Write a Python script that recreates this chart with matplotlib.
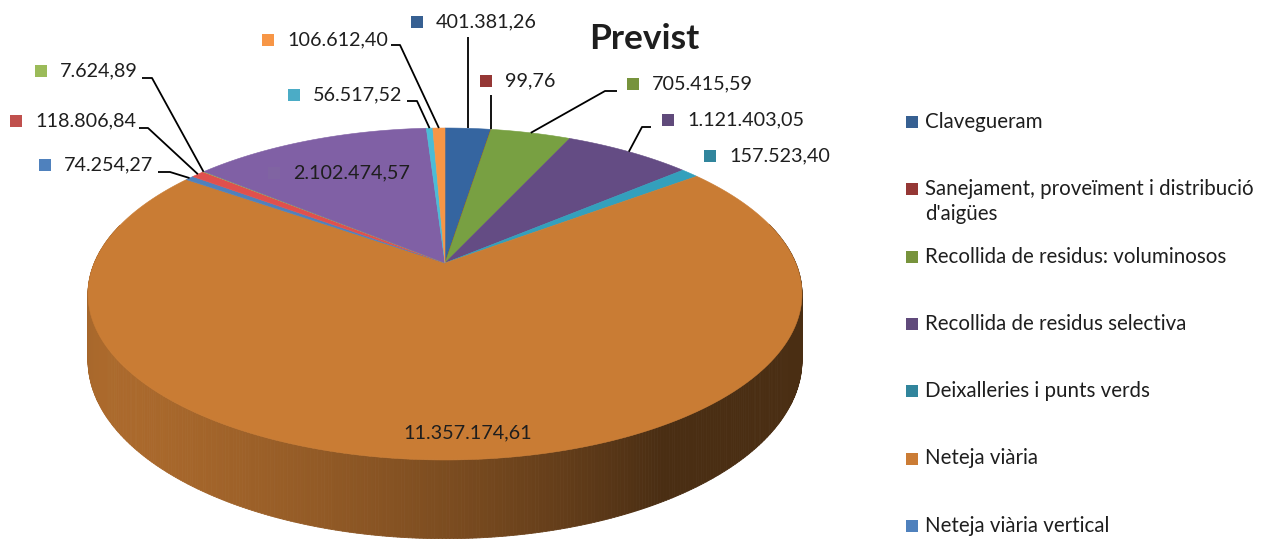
import numpy as np
import matplotlib
matplotlib.use("Agg")
import matplotlib.pyplot as plt
from matplotlib.patches import Polygon, Rectangle
from matplotlib.collections import PolyCollection
from matplotlib.colors import to_rgb

# ---------------- data ----------------
title = "Previst"
categories = [
    "Clavegueram",
    "Sanejament, proveïment i distribució\nd'aigües",
    "Recollida de residus: voluminosos",
    "Recollida de residus selectiva",
    "Deixalleries i punts verds",
    "Neteja viària",
    "Neteja viària vertical",
]
# values clockwise from 12 o'clock (the last five belong to legend entries cut off below)
values = [401381.26, 99.76, 705415.59, 1121403.05, 157523.40, 11357174.61,
          74254.27, 118806.84, 7624.89, 2102474.57, 56517.52, 106612.40]
colors = ["#376092", "#953735", "#77933C", "#604A7B", "#31859C", "#CB7C35",
          "#4F81BD", "#C0504D", "#9BBB59", "#8064A2", "#4BACC6", "#F79646"]
top_colors = ["#3565A0", "#953735", "#78A042", "#644C84", "#33A0BC", "#C97C34",
              "#4F81BD", "#E0504D", "#9BBB59", "#8060A5", "#4BBCD6", "#F79646"]


def fmt(v):
    s = f"{v:,.2f}"
    return s.replace(",", "X").replace(".", ",").replace("X", ".")


value_labels = [fmt(v) for v in values]

# ---------------- layout ----------------
W, H = 1264, 539
fig = plt.figure(figsize=(W / 100, H / 100), dpi=100)
ax = fig.add_axes([0, 0, 1, 1])
ax.set_xlim(0, W)
ax.set_ylim(H, 0)
ax.axis("off")

FONT = "Lato"
TXT = "#1e1e1e"
fs = 14.2
fs_leg = 14.8

# perspective pie geometry
cx, cy = 445.0, 263.0
A, B, G, DEPTH = 350.7, 160.2, 0.1867, 64.0


def proj(theta, down=0.0):
    u = np.sin(theta)
    v = -np.cos(theta)
    den = 1.0 - G * v
    return cx + A * u / den, cy + B * v / den + DEPTH * down / den


vals = np.array(values)
frac = vals / vals.sum()
ends = np.cumsum(frac) * 2 * np.pi
starts = ends - frac * 2 * np.pi
mids = (starts + ends) / 2

LIGHT = np.array([-0.75, 0.45])

# side walls (painter's order back -> front)
quads, qcols, qdepth = [], [], []
for i in range(len(vals)):
    n = max(2, int(np.ceil((ends[i] - starts[i]) / np.radians(0.5))))
    ts = np.linspace(starts[i], ends[i], n + 1)
    base = np.array(to_rgb(top_colors[i]))
    for a, b in zip(ts[:-1], ts[1:]):
        tm = (a + b) / 2
        nu, nv = np.sin(tm), -np.cos(tm)
        if nv < -0.25:
            continue
        xa, ya = proj(a)
        xb, yb = proj(b)
        xa2, ya2 = proj(a, 1)
        xb2, yb2 = proj(b, 1)
        f = 0.37 + 0.55 * max(0.0, nu * LIGHT[0] + nv * LIGHT[1])
        quads.append([(xa, ya), (xb, yb), (xb2, yb2), (xa2, ya2)])
        qcols.append(np.clip(base * f, 0, 1))
        qdepth.append(nv)
order = np.argsort(qdepth)
pc = PolyCollection([quads[k] for k in order], facecolors=[qcols[k] for k in order],
                    edgecolors=[qcols[k] for k in order], linewidths=0.6, zorder=1)
ax.add_collection(pc)

# top faces
for i in range(len(vals)):
    n = max(2, int(np.ceil((ends[i] - starts[i]) / np.radians(0.3))))
    ts = np.linspace(starts[i], ends[i], n + 1)
    xs, ys = proj(ts)
    pts = np.vstack([[cx, cy], np.column_stack([xs, ys])])
    ax.add_patch(Polygon(pts, closed=True, facecolor=top_colors[i],
                         edgecolor=top_colors[i], linewidth=0.4, zorder=2))

# ---------------- data labels ----------------
# (text x, text y, leader style, elbow points)
label_layout = {
    0: (436, 22, "v", 37),
    1: (505, 81, "v", 95),
    2: (652, 84, "r", (617, 605, 91)),
    3: (687, 120, "r", (651, 642, 127)),
    4: (729, 156, None, None),
    5: (468, 433, "in", None),
    6: (64, 165, "l", (158, 170, 172)),
    7: (35, 121, "l", (139, 148, 128)),
    8: (60, 71, "l", (142, 152, 78)),
    9: (293, 173, "inl", None),
    10: (313, 95, "l", (407, 417, 101)),
    11: (287, 40, "l", (391, 400, 45)),
}
SQ = 12
for i, (tx, ty, kind, el) in label_layout.items():
    rx, ry = proj(mids[i])
    if kind == "in":
        ax.text(tx, ty, value_labels[i], ha="center", va="center", fontsize=fs,
                family=FONT, color=TXT, zorder=5)
        continue
    ax.add_patch(Rectangle((tx - 25, ty - SQ / 2), SQ, SQ, facecolor=colors[i],
                           edgecolor="none", zorder=5))
    ax.text(tx, ty, value_labels[i], ha="left", va="center", fontsize=fs,
            family=FONT, color=TXT, zorder=5)
    lk = dict(color="black", lw=1.3, zorder=4, solid_capstyle="butt")
    if kind == "v":
        ax.plot([rx, rx], [el, ry], **lk)
    elif kind in ("l", "r"):
        x0, x1, yy = el
        ax.plot([x0, x1, rx], [yy, yy, ry], **lk)

# ---------------- title ----------------
ax.text(644, 39, title, ha="center", va="center", fontsize=25.5, fontweight="bold",
        family=FONT, color=TXT)

# ---------------- legend (entries visible in the frame) ----------------
leg_x, leg_y0, leg_dy, line_dy = 906, 122, 67.3, 25
for k, name in enumerate(categories):
    y = leg_y0 + k * leg_dy
    ax.add_patch(Rectangle((leg_x, y - 6), 12, 12, facecolor=colors[k], edgecolor="none"))
    for j, line in enumerate(name.split("\n")):
        ax.text(leg_x + 19, y + j * line_dy, line, ha="left", va="center",
                fontsize=fs_leg, family=FONT, color=TXT)

fig.savefig("out.png", dpi=100, facecolor="white")
